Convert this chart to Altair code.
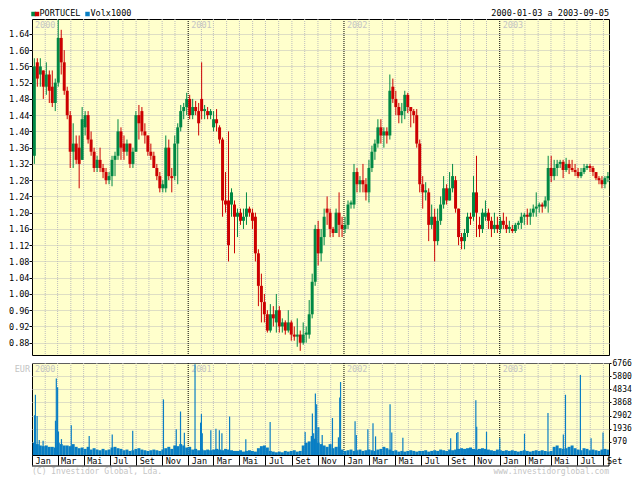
import altair as alt
import pandas as pd
import numpy as np

# ---------------- data (weekly candles, week starting Monday 2000-01-03) ----------------
week_open = [
    1.34, 1.57, 1.54, 1.55, 1.51, 1.54, 1.51, 1.47, 1.52, 1.63,
    1.57, 1.50, 1.44, 1.35, 1.37, 1.36, 1.33, 1.41, 1.44, 1.38,
    1.35, 1.31, 1.33, 1.31, 1.30, 1.28, 1.29, 1.33, 1.34, 1.40,
    1.37, 1.35, 1.37, 1.32, 1.35, 1.44, 1.45, 1.40, 1.39, 1.35,
    1.34, 1.31, 1.29, 1.26, 1.26, 1.36, 1.29, 1.29, 1.37, 1.41,
    1.45, 1.46, 1.48, 1.44, 1.46, 1.45, 1.48, 1.45, 1.45, 1.44,
    1.41, 1.43, 1.41, 1.38, 1.23, 1.23, 1.22, 1.22, 1.19, 1.20,
    1.18, 1.19, 1.21, 1.20, 1.19, 1.10, 1.02, 0.98, 0.95, 0.91,
    0.95, 0.93, 0.96, 0.92, 0.93, 0.91, 0.93, 0.90, 0.895, 0.90,
    0.88, 0.90, 0.90, 0.95, 1.03, 1.16, 1.10, 1.14, 1.21, 1.20,
    1.16, 1.15, 1.20, 1.17, 1.16, 1.17, 1.22, 1.22, 1.30, 1.27,
    1.28, 1.27, 1.25, 1.31, 1.35, 1.37, 1.41, 1.39, 1.40, 1.39,
    1.51, 1.48, 1.46, 1.44, 1.45, 1.49, 1.46, 1.45, 1.44, 1.37,
    1.27, 1.25, 1.25, 1.17, 1.19, 1.13, 1.18, 1.22, 1.26, 1.23,
    1.26, 1.28, 1.21, 1.14, 1.13, 1.15, 1.19, 1.19, 1.25, 1.17,
    1.16, 1.19, 1.20, 1.18, 1.16, 1.17, 1.16, 1.18, 1.17, 1.16,
    1.16, 1.155, 1.17, 1.175, 1.19, 1.195, 1.19, 1.20, 1.21, 1.215,
    1.22, 1.215, 1.23, 1.31, 1.29, 1.31, 1.32, 1.325, 1.305, 1.32,
    1.31, 1.305, 1.30, 1.29, 1.30, 1.31, 1.315, 1.31, 1.30, 1.285,
    1.28, 1.27, 1.285,
]
week_high = [
    1.58, 1.58, 1.58, 1.55, 1.57, 1.55, 1.55, 1.53, 1.675, 1.65,
    1.60, 1.51, 1.45, 1.42, 1.39, 1.39, 1.46, 1.45, 1.45, 1.40,
    1.36, 1.34, 1.36, 1.32, 1.31, 1.30, 1.34, 1.35, 1.43, 1.41,
    1.39, 1.38, 1.37, 1.36, 1.45, 1.465, 1.46, 1.42, 1.39, 1.37,
    1.35, 1.32, 1.30, 1.28, 1.39, 1.38, 1.31, 1.39, 1.42, 1.465,
    1.47, 1.495, 1.49, 1.48, 1.475, 1.47, 1.57, 1.465, 1.46, 1.455,
    1.45, 1.455, 1.415, 1.385, 1.30, 1.40, 1.26, 1.23, 1.21, 1.21,
    1.21, 1.25, 1.215, 1.21, 1.20, 1.11, 1.05, 1.00, 0.96, 0.975,
    0.97, 1.00, 0.97, 0.94, 0.935, 0.96, 0.935, 0.92, 0.94, 0.91,
    0.93, 0.92, 0.985, 1.05, 1.17, 1.18, 1.16, 1.21, 1.24, 1.21,
    1.165, 1.21, 1.25, 1.19, 1.19, 1.23, 1.23, 1.32, 1.31, 1.29,
    1.32, 1.285, 1.33, 1.365, 1.38, 1.43, 1.43, 1.41, 1.41, 1.54,
    1.53, 1.50, 1.47, 1.47, 1.50, 1.495, 1.46, 1.455, 1.455, 1.38,
    1.29, 1.275, 1.26, 1.22, 1.21, 1.21, 1.24, 1.29, 1.27, 1.30,
    1.32, 1.29, 1.21, 1.15, 1.16, 1.20, 1.20, 1.29, 1.34, 1.19,
    1.21, 1.23, 1.21, 1.19, 1.20, 1.19, 1.19, 1.20, 1.19, 1.18,
    1.17, 1.175, 1.18, 1.20, 1.20, 1.21, 1.21, 1.22, 1.25, 1.225,
    1.225, 1.24, 1.34, 1.34, 1.33, 1.33, 1.33, 1.33, 1.335, 1.33,
    1.33, 1.32, 1.31, 1.31, 1.32, 1.32, 1.32, 1.315, 1.30, 1.29,
    1.29, 1.29, 1.30,
]
week_low = [
    1.32, 1.51, 1.51, 1.48, 1.49, 1.47, 1.46, 1.45, 1.51, 1.54,
    1.49, 1.43, 1.31, 1.31, 1.32, 1.26, 1.33, 1.39, 1.37, 1.34,
    1.30, 1.30, 1.30, 1.285, 1.27, 1.27, 1.265, 1.29, 1.33, 1.33,
    1.33, 1.34, 1.31, 1.31, 1.35, 1.38, 1.39, 1.37, 1.34, 1.33,
    1.31, 1.28, 1.25, 1.25, 1.25, 1.28, 1.25, 1.28, 1.27, 1.40,
    1.43, 1.44, 1.43, 1.43, 1.44, 1.39, 1.43, 1.43, 1.43, 1.43,
    1.40, 1.40, 1.37, 1.19, 1.20, 1.08, 1.19, 1.10, 1.14, 1.17,
    1.16, 1.17, 1.19, 1.16, 1.08, 0.97, 0.93, 0.93, 0.905, 0.905,
    0.92, 0.905, 0.905, 0.905, 0.90, 0.905, 0.885, 0.885, 0.87, 0.86,
    0.875, 0.88, 0.89, 0.94, 1.02, 1.07, 1.08, 1.12, 1.17, 1.14,
    1.14, 1.15, 1.14, 1.14, 1.15, 1.16, 1.21, 1.21, 1.25, 1.25,
    1.25, 1.23, 1.225, 1.30, 1.33, 1.36, 1.37, 1.36, 1.37, 1.38,
    1.47, 1.44, 1.42, 1.42, 1.43, 1.445, 1.41, 1.42, 1.36, 1.25,
    1.21, 1.23, 1.13, 1.16, 1.08, 1.12, 1.17, 1.21, 1.22, 1.23,
    1.25, 1.20, 1.12, 1.11, 1.11, 1.14, 1.17, 1.18, 1.14, 1.14,
    1.15, 1.18, 1.16, 1.14, 1.15, 1.15, 1.15, 1.16, 1.15, 1.15,
    1.15, 1.15, 1.16, 1.16, 1.17, 1.17, 1.17, 1.19, 1.19, 1.20,
    1.20, 1.21, 1.20, 1.275, 1.28, 1.29, 1.31, 1.285, 1.30, 1.295,
    1.30, 1.29, 1.285, 1.285, 1.295, 1.305, 1.30, 1.29, 1.28, 1.27,
    1.26, 1.26, 1.275,
]
week_close = [
    1.56, 1.53, 1.56, 1.51, 1.54, 1.50, 1.47, 1.52, 1.63, 1.57,
    1.50, 1.44, 1.35, 1.37, 1.33, 1.32, 1.43, 1.44, 1.38, 1.35,
    1.31, 1.33, 1.31, 1.30, 1.28, 1.29, 1.33, 1.34, 1.40, 1.36,
    1.35, 1.37, 1.32, 1.35, 1.44, 1.42, 1.40, 1.39, 1.35, 1.34,
    1.31, 1.29, 1.26, 1.27, 1.36, 1.29, 1.285, 1.37, 1.41, 1.45,
    1.46, 1.48, 1.44, 1.46, 1.45, 1.42, 1.45, 1.455, 1.44, 1.45,
    1.43, 1.42, 1.38, 1.23, 1.22, 1.12, 1.25, 1.19, 1.20, 1.18,
    1.19, 1.21, 1.20, 1.18, 1.10, 1.02, 0.98, 0.95, 0.91, 0.95,
    0.94, 0.96, 0.92, 0.93, 0.91, 0.93, 0.90, 0.895, 0.90, 0.88,
    0.90, 0.905, 0.95, 1.03, 1.16, 1.10, 1.14, 1.19, 1.20, 1.16,
    1.15, 1.20, 1.17, 1.16, 1.17, 1.22, 1.225, 1.30, 1.27, 1.28,
    1.27, 1.25, 1.31, 1.35, 1.37, 1.41, 1.39, 1.40, 1.39, 1.50,
    1.48, 1.46, 1.44, 1.45, 1.49, 1.46, 1.45, 1.44, 1.37, 1.27,
    1.25, 1.255, 1.17, 1.19, 1.13, 1.18, 1.22, 1.26, 1.23, 1.26,
    1.29, 1.21, 1.14, 1.13, 1.15, 1.19, 1.185, 1.25, 1.20, 1.16,
    1.20, 1.20, 1.18, 1.16, 1.17, 1.16, 1.18, 1.17, 1.16, 1.165,
    1.155, 1.17, 1.175, 1.19, 1.195, 1.19, 1.20, 1.21, 1.215, 1.22,
    1.215, 1.23, 1.31, 1.29, 1.31, 1.32, 1.325, 1.305, 1.32, 1.31,
    1.305, 1.30, 1.29, 1.30, 1.31, 1.315, 1.31, 1.30, 1.285, 1.28,
    1.27, 1.285, 1.29,
]
# weekly base volume (x1000)
week_volume = [
    900, 800, 700, 650, 700, 600, 600, 550, 900, 800,
    700, 700, 650, 800, 600, 500, 550, 450, 600, 400,
    500, 400, 350, 450, 350, 400, 550, 600, 500, 450,
    350, 400, 300, 350, 450, 500, 400, 350, 300, 350,
    400, 350, 300, 400, 500, 600, 450, 700, 650, 800,
    700, 550, 600, 400, 450, 350, 450, 350, 400, 350,
    400, 450, 400, 350, 450, 400, 350, 300, 300, 350,
    250, 300, 350, 300, 250, 500, 650, 700, 550, 300,
    250, 200, 250, 200, 300, 250, 300, 350, 250, 300,
    700, 900, 1000, 1400, 1200, 900, 800, 700, 600, 800,
    500, 600, 600, 400, 300, 350, 400, 300, 350, 400,
    300, 350, 400, 350, 300, 400, 450, 600, 500, 400,
    300, 350, 250, 300, 250, 300, 350, 300, 250, 300,
    300, 350, 250, 300, 350, 300, 400, 350, 300, 400,
    350, 400, 450, 500, 450, 500, 550, 450, 400, 450,
    500, 450, 400, 350, 300, 400, 350, 300, 350, 300,
    350, 300, 250, 300, 350, 300, 250, 300, 350, 300,
    350, 300, 250, 300, 600, 700, 500, 450, 500, 600,
    700, 500, 400, 350, 500, 450, 350, 400, 350, 300,
    400, 450, 400,
]
# single-day volume spikes
spike_dates = [
    "2000-01-07", "2000-01-09", "2000-01-13", "2000-01-18", "2000-01-27",
    "2000-02-25", "2000-02-27", "2000-03-01", "2000-03-03", "2000-03-10",
    "2000-04-02", "2000-05-14", "2000-07-07", "2000-08-24", "2000-11-04",
    "2000-12-04", "2000-12-14", "2000-12-23", "2001-01-17",
    "2001-01-30", "2001-02-01", "2001-02-03", "2001-02-23", "2001-03-07",
    "2001-03-15", "2001-03-21", "2001-04-08", "2001-05-16", "2001-07-12",
    "2001-10-02", "2001-10-19", "2001-10-22", "2001-10-26", "2001-10-29",
    "2001-11-01", "2001-11-03", "2001-11-11", "2001-12-05", "2001-12-19",
    "2001-12-22", "2001-12-24", "2002-01-27", "2002-01-30", "2002-02-26",
    "2002-03-10", "2002-03-16", "2002-04-19", "2002-04-23", "2002-05-19",
    "2002-09-08", "2002-09-22", "2002-09-25", "2002-11-06", "2002-11-08",
    "2002-12-01", "2003-01-01", "2003-02-28", "2003-04-24", "2003-05-30",
    "2003-06-04", "2003-07-09", "2003-08-03", "2003-08-31",
]
spike_volume = [
    2925, 4430, 2860, 1100, 1040,
    2520, 5620, 4990, 1730, 1170,
    2180, 1400, 1510, 1780, 4090,
    1890, 3200, 1640, 6680,
    2380, 3010, 1600, 1820, 1930,
    1820, 1600, 2830, 1150, 2430,
    1700, 3060, 1600, 4520, 3730,
    2040, 2040, 1480, 2720, 1300,
    4220, 5370, 2490, 1480, 1890,
    2340, 1370, 3730, 1660, 1260,
    1240, 1620, 1700, 4030, 2070,
    1700, 1240, 1560, 3080, 1510,
    4430, 5890, 1240, 1660,
]
year_labels = ["2000", "2001", "2002", "2003"]
month_names = ["Jan", "Fev", "Mar", "Abr", "Mai", "Jun", "Jul", "Ago", "Set", "Out", "Nov", "Dez"]
price_ticks = [0.88, 0.92, 0.96, 1.00, 1.04, 1.08, 1.12, 1.16, 1.20, 1.24,
               1.28, 1.32, 1.36, 1.40, 1.44, 1.48, 1.52, 1.56, 1.60, 1.64]
volume_ticks = [970, 1936, 2902, 3868, 4834, 5800, 6766]

assert len(week_open) == len(week_high) == len(week_low) == len(week_close) == len(week_volume)
assert len(spike_dates) == len(spike_volume)

# ---------------- frames ----------------
n = len(week_open)
starts = pd.date_range("2000-01-03", periods=n, freq="7D")
candles = pd.DataFrame({
    "start": starts,
    "end": starts + pd.Timedelta(days=7),
    "mid": starts + pd.Timedelta(hours=84),
    "open": week_open, "high": week_high, "low": week_low, "close": week_close,
    "vol": week_volume,
})
candles["dir"] = np.where(candles["close"] >= candles["open"], "up", "down")
spikes = pd.DataFrame({"date": pd.to_datetime(spike_dates), "vol": spike_volume})
years = pd.DataFrame({"date": pd.to_datetime([y + "-01-01" for y in year_labels]), "label": year_labels})
year_lines = years[years["label"] != "2000"]
months = pd.DataFrame({"date": pd.date_range("2000-02-01", "2003-09-01", freq="MS")})
months = months[months["date"].dt.month != 1]
bimonth = pd.date_range("2000-01-01", "2003-09-01", freq="2MS")

W = 577
HP = 336
HV = 92
FONT = "DejaVu Sans Mono"
FS = 8.5
BG = "#FFFFCC"
GRID = "#BDBDBD"
UP = "#008844"
DOWN = "#CC0000"
BLUE = "#0A7FC4"
LIGHT = "#C4C4C4"

xscale = alt.Scale(domain=[alt.DateTime(year=2000, month=1, date=1),
                           alt.DateTime(year=2003, month=9, date=14)])
pscale = alt.Scale(domain=[0.8498, 1.6766], nice=False, zero=False)
vscale = alt.Scale(domain=[0, 6766], nice=False)
cscale = alt.Scale(domain=["up", "down"], range=[UP, DOWN])

p_axis = alt.Axis(values=price_ticks, format=".2f", grid=True, gridColor=GRID, gridDash=[1, 1],
                  tickSize=3, tickColor="black", domain=False, labelPadding=0,
                  labelFont=FONT, labelFontSize=FS, labelColor="black", title=None)

# ---------------- price panel ----------------
base_p = alt.Chart(candles)
month_grid_p = alt.Chart(months).mark_rule(color=GRID, strokeDash=[1, 1]).encode(
    x=alt.X("date:T", scale=xscale, axis=None), y=alt.value(0), y2=alt.value(HP))
year_rule_p = alt.Chart(year_lines).mark_rule(color="black", strokeDash=[1, 1]).encode(
    x=alt.X("date:T", scale=xscale, axis=None), y=alt.value(0), y2=alt.value(HP))
year_text_p = alt.Chart(years).mark_text(align="left", baseline="top", dx=3, dy=2, font=FONT,
                                          fontSize=FS, color=LIGHT).encode(
    x=alt.X("date:T", scale=xscale, axis=None), y=alt.value(0), text="label:N")
wicks = base_p.mark_rule(strokeWidth=1, clip=True).encode(
    x=alt.X("mid:T", scale=xscale, axis=None),
    y=alt.Y("low:Q", scale=pscale, axis=p_axis),
    y2="high:Q",
    color=alt.Color("dir:N", scale=cscale, legend=None))
bodies = base_p.mark_bar(clip=True).encode(
    x=alt.X("start:T", scale=xscale, axis=None), x2="end:T",
    y=alt.Y("open:Q", scale=pscale, axis=p_axis), y2="close:Q",
    color=alt.Color("dir:N", scale=cscale, legend=None))

legend_items = pd.DataFrame({"x": [1.5, 5.0, 55.5], "c": [UP, DOWN, BLUE]})
legend_sq = alt.Chart(legend_items).mark_square(size=20, opacity=1).encode(
    x=alt.X("x:Q", scale=None), y=alt.value(-5), color=alt.Color("c:N", scale=None))
legend_txt = alt.Chart(pd.DataFrame({"x": [7.5, 58.5], "t": ["PORTUCEL", "Volx1000"]})).mark_text(
    align="left", baseline="bottom", font=FONT, fontSize=FS, color="black", dy=-1).encode(
    x=alt.X("x:Q", scale=None), y=alt.value(0), text="t:N")
range_txt = alt.Chart(pd.DataFrame({"t": ["2000-01-03 a 2003-09-05"]})).mark_text(
    align="right", baseline="bottom", font=FONT, fontSize=FS, color="black", dy=-1).encode(
    x=alt.value(W), y=alt.value(0), text="t:N")

price = alt.layer(month_grid_p, year_rule_p, year_text_p, wicks, bodies,
                  legend_sq, legend_txt, range_txt).properties(width=W, height=HP)

# ---------------- volume panel ----------------
x_vol_axis = alt.Axis(values=[alt.DateTime(year=d.year, month=d.month, date=1) for d in bimonth],
                      labelExpr="['" + "','".join(month_names) + "'][month(datum.value)]",
                      tickSize=10, tickColor="black", tickWidth=1, domain=False, grid=False,
                      labelAlign="left", labelBaseline="top", labelPadding=-9, labelOffset=3,
                      labelFont=FONT, labelFontSize=FS, labelColor="black", labelFlush=False,
                      labelOverlap=False, labelBound=False, title=None)
v_axis = alt.Axis(values=volume_ticks, format="d", orient="right", grid=True, gridColor=GRID,
                  gridDash=[1, 1], tickSize=2, tickColor="black", domain=False, labelPadding=1,
                  labelFont=FONT, labelFontSize=8, labelColor="black", title=None)

month_grid_v = alt.Chart(months).mark_rule(color=GRID, strokeDash=[1, 1]).encode(
    x=alt.X("date:T", scale=xscale, axis=x_vol_axis), y=alt.value(0), y2=alt.value(HV))
year_rule_v = alt.Chart(year_lines).mark_rule(color="black", strokeDash=[1, 1]).encode(
    x=alt.X("date:T", scale=xscale, axis=x_vol_axis), y=alt.value(0), y2=alt.value(HV))
year_text_v = alt.Chart(years).mark_text(align="left", baseline="top", dx=3, dy=2, font=FONT,
                                          fontSize=FS, color=LIGHT).encode(
    x=alt.X("date:T", scale=xscale, axis=x_vol_axis), y=alt.value(0), text="label:N")
vol_bars = alt.Chart(candles).mark_bar(color=BLUE, clip=True).encode(
    x=alt.X("start:T", scale=xscale, axis=x_vol_axis), x2="end:T",
    y=alt.Y("vol:Q", scale=vscale, axis=v_axis), y2=alt.datum(0))
vol_spikes = alt.Chart(spikes).mark_rule(color=BLUE, strokeWidth=1.2, clip=True).encode(
    x=alt.X("date:T", scale=xscale, axis=x_vol_axis),
    y=alt.Y("vol:Q", scale=vscale, axis=v_axis), y2=alt.datum(0))
eur = alt.Chart(pd.DataFrame({"t": ["EUR"]})).mark_text(
    align="right", baseline="top", font=FONT, fontSize=FS, color=LIGHT, dx=-2, dy=2).encode(
    x=alt.value(0), y=alt.value(0), text="t:N")
strip_line = alt.Chart(pd.DataFrame({"a": [0]})).mark_rule(color="black").encode(
    x=alt.value(0), x2=alt.value(W), y=alt.value(HV + 11))
strip_end = alt.Chart(pd.DataFrame({"a": [0]})).mark_rule(color="black").encode(
    x=alt.value(W), y=alt.value(HV), y2=alt.value(HV + 11))
copy_left = alt.Chart(pd.DataFrame({"t": ["(C) Investidor Global, Lda."]})).mark_text(
    align="left", baseline="top", font=FONT, fontSize=8, color=LIGHT).encode(
    x=alt.value(0), y=alt.value(HV + 13), text="t:N")
copy_right = alt.Chart(pd.DataFrame({"t": ["www.investidorglobal.com"]})).mark_text(
    align="right", baseline="top", font=FONT, fontSize=8, color=LIGHT).encode(
    x=alt.value(W), y=alt.value(HV + 13), text="t:N")

volume = alt.layer(month_grid_v, year_rule_v, year_text_v, vol_bars, vol_spikes, eur,
                   strip_line, strip_end, copy_left, copy_right).properties(width=W, height=HV)

chart = alt.vconcat(price, volume, spacing=2).configure(
    padding=0, background="white"
).configure_view(fill=BG, stroke="black", strokeWidth=1)

chart.save("out.html", embed_options={"renderer": "svg", "actions": False})
